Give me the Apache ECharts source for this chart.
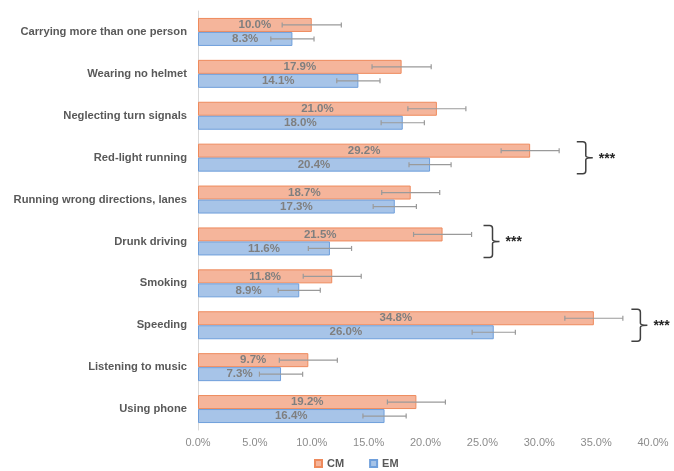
<!DOCTYPE html>
<html>
<head>
<meta charset="utf-8">
<script src="https://cdn.jsdelivr.net/npm/echarts@6/dist/echarts.min.js"></script>
<style>html,body{margin:0;padding:0;background:#fff}#c{width:674px;height:471px}</style>
</head>
<body>
<div id="c"></div>
<script>
var categories = ['Carrying more than one person','Wearing no helmet','Neglecting turn signals','Red-light running','Running wrong directions, lanes','Drunk driving','Smoking','Speeding','Listening to music','Using phone'];
var cmValues = [10.0, 17.9, 21.0, 29.2, 18.7, 21.5, 11.8, 34.8, 9.7, 19.2];
var emValues = [8.3, 14.1, 18.0, 20.4, 17.3, 11.6, 8.9, 26.0, 7.3, 16.4];
var cmErrors = [2.6, 2.6, 2.55, 2.55, 2.55, 2.55, 2.55, 2.55, 2.55, 2.55];
var emErrors = [1.9, 1.9, 1.9, 1.85, 1.9, 1.9, 1.85, 1.9, 1.9, 1.9];
var xTicks = [0, 5, 10, 15, 20, 25, 30, 35, 40];
var sigCategories = ['Red-light running', 'Drunk driving', 'Speeding'];
var sigBracketX = [33.3, 25.1, 38.1];
var sigLabels = ['***', '***', '***'];

var chart = echarts.init(document.getElementById('c'));
var FONT = 'Liberation Sans, Arial, sans-serif';
var BAR = 14;

function errData(vals, errs) {
  return vals.map(function (v, i) { return [v - errs[i], v + errs[i], i]; });
}
function errRender(offset) {
  return function (params, api) {
    var lo = api.coord([api.value(0), api.value(2)]);
    var hi = api.coord([api.value(1), api.value(2)]);
    var y = lo[1] + offset;
    var c = 2.5;
    var st = { stroke: '#9a9a9a', lineWidth: 1.2 };
    return { type: 'group', children: [
      { type: 'line', shape: { x1: lo[0], y1: y, x2: hi[0], y2: y }, style: st },
      { type: 'line', shape: { x1: lo[0], y1: y - c, x2: lo[0], y2: y + c }, style: st },
      { type: 'line', shape: { x1: hi[0], y1: y - c, x2: hi[0], y2: y + c }, style: st }
    ]};
  };
}
var sigData = sigCategories.map(function (c, i) { return [sigBracketX[i], categories.indexOf(c), sigLabels[i]]; });

chart.setOption({
  animation: false,
  backgroundColor: '#fff',
  grid: { left: 198, right: 21, top: 11, bottom: 41, containLabel: false },
  legend: {
    data: ['CM', 'EM'], top: 453, left: 309, itemWidth: 7, itemHeight: 7, itemGap: 25,
    icon: 'rect',
    textStyle: { color: '#595959', fontWeight: 'bold', fontSize: 11, fontFamily: FONT }
  },
  xAxis: {
    type: 'value', min: 0, max: 40, interval: 5,
    axisLine: { show: false }, axisTick: { show: false }, splitLine: { show: false },
    axisLabel: { color: '#8c8c8c', fontSize: 11, fontFamily: FONT, margin: 7,
      formatter: function (v) { return v.toFixed(1) + '%'; } }
  },
  yAxis: {
    type: 'category', data: categories, inverse: true,
    axisLine: { show: true, lineStyle: { color: '#d9d9d9', width: 1 } },
    axisTick: { show: false },
    axisLabel: { color: '#595959', fontWeight: 'bold', fontSize: 11.2, fontFamily: FONT, margin: 11 }
  },
  series: [
    { name: 'CM', type: 'bar', data: cmValues, barWidth: BAR, barGap: '0%',
      itemStyle: { color: '#F5B59B', borderColor: '#EE8A5C', borderWidth: 1 },
      label: { show: true, position: 'inside', color: '#7f7f7f', fontWeight: 'bold', fontSize: 11.5, fontFamily: FONT,
        formatter: function (p) { return p.value.toFixed(1) + '%'; } } },
    { name: 'EM', type: 'bar', data: emValues, barWidth: BAR, barGap: '0%',
      itemStyle: { color: '#A7C4E8', borderColor: '#6F9FDB', borderWidth: 1 },
      label: { show: true, position: 'inside', color: '#7f7f7f', fontWeight: 'bold', fontSize: 11.5, fontFamily: FONT,
        formatter: function (p) { return p.value.toFixed(1) + '%'; } } },
    { type: 'custom', data: errData(cmValues, cmErrors), encode: { x: [0, 1], y: 2 },
      renderItem: errRender(-BAR / 2), z: 5, silent: true },
    { type: 'custom', data: errData(emValues, emErrors), encode: { x: [0, 1], y: 2 },
      renderItem: errRender(BAR / 2), z: 5, silent: true },
    { type: 'custom', data: sigData, encode: { x: 0, y: 1 }, clip: false, z: 6, silent: true,
      renderItem: function (params, api) {
        var p = api.coord([api.value(0), api.value(1)]);
        var x0 = p[0], yc = p[1];
        var h = 16, w = 9, r = 3, tip = 7;
        var xv = x0 + w;
        var d = 'M' + x0 + ' ' + (yc - h) + ' L' + (xv - r) + ' ' + (yc - h) +
          ' Q' + xv + ' ' + (yc - h) + ' ' + xv + ' ' + (yc - h + r) +
          ' L' + xv + ' ' + (yc - 2) + ' Q' + xv + ' ' + yc + ' ' + (xv + tip) + ' ' + yc +
          ' Q' + xv + ' ' + yc + ' ' + xv + ' ' + (yc + 2) +
          ' L' + xv + ' ' + (yc + h - r) + ' Q' + xv + ' ' + (yc + h) + ' ' + (xv - r) + ' ' + (yc + h) +
          ' L' + x0 + ' ' + (yc + h);
        return { type: 'group', children: [
          { type: 'path', shape: { pathData: d }, style: { fill: null, stroke: '#404040', lineWidth: 1.5 } },
          { type: 'text', style: { text: api.value(2), x: xv + tip + 6, y: yc + 1, textVerticalAlign: 'middle',
            fill: '#262626', font: 'bold 14px ' + FONT } }
        ]};
      } }
  ]
});
</script>
</body>
</html>
